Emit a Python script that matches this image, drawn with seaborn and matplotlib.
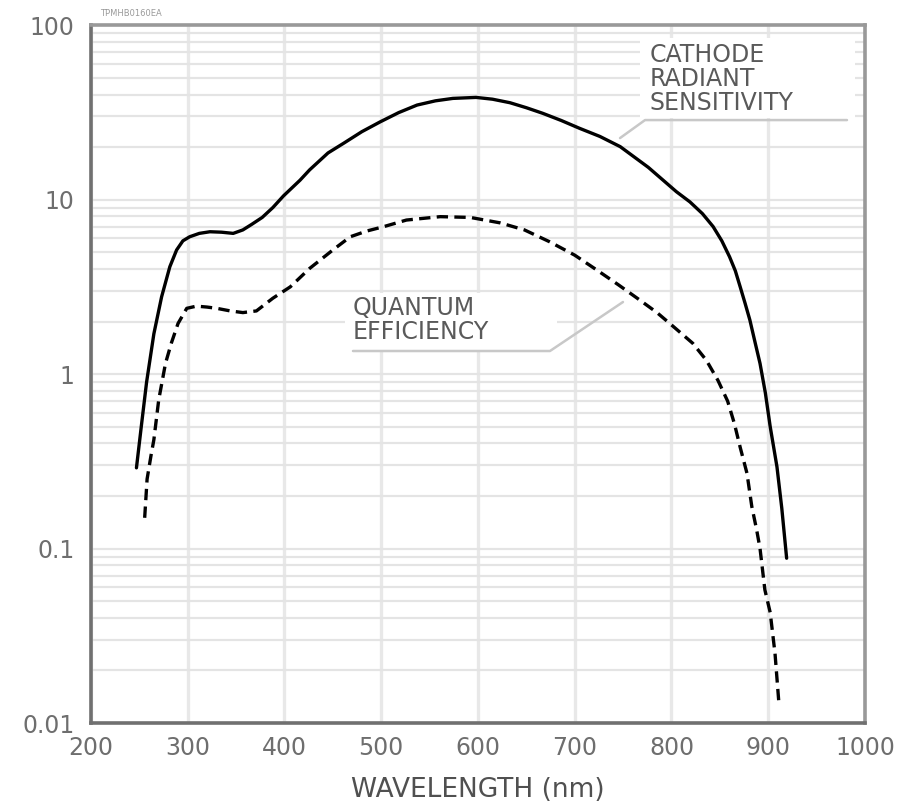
import matplotlib
matplotlib.use("Agg")
import matplotlib.pyplot as plt
import pandas as pd
import seaborn as sns
from matplotlib.patches import Rectangle
from matplotlib.lines import Line2D
from matplotlib.ticker import LogLocator, NullFormatter

# Cathode radiant sensitivity (mA/W) against wavelength (nm)
wavelength_sens = [247, 252, 257.5, 265, 273, 281.5, 288.5, 295, 302, 312, 323, 335,
                   347, 357, 366, 377, 388, 399, 416, 426, 445, 461, 480, 499, 518,
                   537, 556, 574, 598, 615, 633, 650, 667, 686, 705, 726, 747, 776,
                   805, 819, 832, 843, 852, 860, 866, 871, 876, 881, 886, 891.5,
                   897, 902, 909, 914, 919]
radiant_sensitivity = [0.29, 0.5, 0.9, 1.7, 2.77, 4.12, 5.14, 5.8, 6.12, 6.4, 6.54, 6.5,
                       6.4, 6.7, 7.2, 7.9, 9.0, 10.5, 12.9, 14.8, 18.5, 21.0, 24.5, 27.9,
                       31.5, 34.8, 36.8, 38.0, 38.5, 37.6, 35.9, 33.6, 31.2, 28.4, 25.6,
                       23.0, 20.1, 15.3, 11.1, 9.7, 8.3, 7.0, 5.8, 4.7, 3.9, 3.16, 2.55,
                       2.04, 1.55, 1.15, 0.78, 0.5, 0.294, 0.17, 0.088]

# Quantum efficiency (%) against wavelength (nm)
wavelength_qe = [255.5, 258, 262, 265, 270, 277, 283, 290, 299, 309, 320, 330, 344,
                 357, 371, 388, 406, 426, 450, 468, 485, 502, 526, 561, 592, 623,
                 648, 674, 700, 723, 745, 767, 785, 802, 822, 836, 848, 858, 865,
                 871, 878, 883, 888, 891.5, 896.5, 902, 907, 911]
quantum_efficiency = [0.15, 0.25, 0.34, 0.42, 0.71, 1.15, 1.5, 1.95, 2.38, 2.45, 2.42,
                      2.38, 2.3, 2.25, 2.3, 2.72, 3.16, 4.03, 5.14, 6.12, 6.6, 6.98,
                      7.63, 7.98, 7.9, 7.35, 6.7, 5.73, 4.8, 3.94, 3.25, 2.66, 2.25,
                      1.87, 1.5, 1.2, 0.92, 0.7, 0.52, 0.38, 0.27, 0.174, 0.128,
                      0.1, 0.058, 0.043, 0.025, 0.013]

x_ticks = [200, 300, 400, 500, 600, 700, 800, 900, 1000]
x_tick_labels = ["200", "300", "400", "500", "600", "700", "800", "900", "1000"]
y_ticks = [0.01, 0.1, 1, 10, 100]
y_tick_labels = ["0.01", "0.1", "1", "10", "100"]

sns.set_style("white")
plt.rcParams["font.family"] = ["DejaVu Sans"]

fig = plt.figure(figsize=(9.07, 8.09), dpi=100)
ax = fig.add_axes([0.1003, 0.1063, 0.8534, 0.8627])

sens = pd.DataFrame({"wavelength": wavelength_sens, "value": radiant_sensitivity})
qe = pd.DataFrame({"wavelength": wavelength_qe, "value": quantum_efficiency})

sns.lineplot(data=sens, x="wavelength", y="value", ax=ax, color="black",
             linewidth=2.4, estimator=None, sort=False, zorder=4)
sns.lineplot(data=qe, x="wavelength", y="value", ax=ax, color="black",
             linewidth=2.4, linestyle=(0, (3.4, 1.9)), estimator=None, sort=False,
             zorder=4)

ax.set_yscale("log")
ax.set_xlim(200, 1000)
ax.set_ylim(0.01, 100)

ax.set_xticks(x_ticks)
ax.set_xticklabels(x_tick_labels)
ax.set_yticks(y_ticks)
ax.set_yticklabels(y_tick_labels)
ax.yaxis.set_minor_locator(LogLocator(base=10, subs=range(2, 10)))
ax.yaxis.set_minor_formatter(NullFormatter())

ax.set_axisbelow(True)
ax.grid(which="major", axis="x", color="#e8e8e8", linewidth=2.4)
ax.grid(which="both", axis="y", color="#e4e4e4", linewidth=1.6)

ax.tick_params(axis="both", which="both", length=0)
ax.tick_params(axis="x", labelsize=17, labelcolor="#6e6e6e", pad=9)
ax.tick_params(axis="y", labelsize=17, labelcolor="#6e6e6e", pad=12)

for side in ["left", "bottom"]:
    ax.spines[side].set_color("#707070")
    ax.spines[side].set_linewidth(2.6)
for side in ["top", "right"]:
    ax.spines[side].set_color("#999999")
    ax.spines[side].set_linewidth(2.6)

ax.set_xlabel("WAVELENGTH (nm)", fontsize=19, color="#505050")
ax.set_ylabel("")
ax.xaxis.label.set_va("center")
ax.xaxis.set_label_coords(0.5, -0.096)

# Label boxes that mask the grid behind the curve names
for (x0, y0, w, h) in [(0.709, 0.8668, 0.278, 0.1146), (0.328, 0.534, 0.274, 0.082)]:
    ax.add_patch(Rectangle((x0, y0), w, h, transform=ax.transAxes,
                           facecolor="white", edgecolor="none", zorder=1.5))

ax.text(0.7222, 0.9234, "CATHODE\nRADIANT\nSENSITIVITY", transform=ax.transAxes,
        ha="left", va="center", fontsize=17, color="#5a5a5a", linespacing=1.0,
        zorder=5)
ax.text(0.3385, 0.5774, "QUANTUM\nEFFICIENCY", transform=ax.transAxes,
        ha="left", va="center", fontsize=17, color="#5a5a5a", linespacing=1.0,
        zorder=5)

# Leader lines from the labels to their curves
leader_kw = dict(transform=ax.transAxes, color="#c8c8c8", linewidth=1.8, zorder=3)
ax.add_line(Line2D([0.9767, 0.7158, 0.6835], [0.8639, 0.8639, 0.8381], **leader_kw))
ax.add_line(Line2D([0.3385, 0.593, 0.6873], [0.533, 0.533, 0.6032], **leader_kw))

fig.text(100 / 907, 1 - 13 / 809, "TPMHB0160EA", fontsize=6, color="#9a9a9a",
         ha="left", va="center")

fig.savefig("out.png", dpi=100, facecolor="white")
